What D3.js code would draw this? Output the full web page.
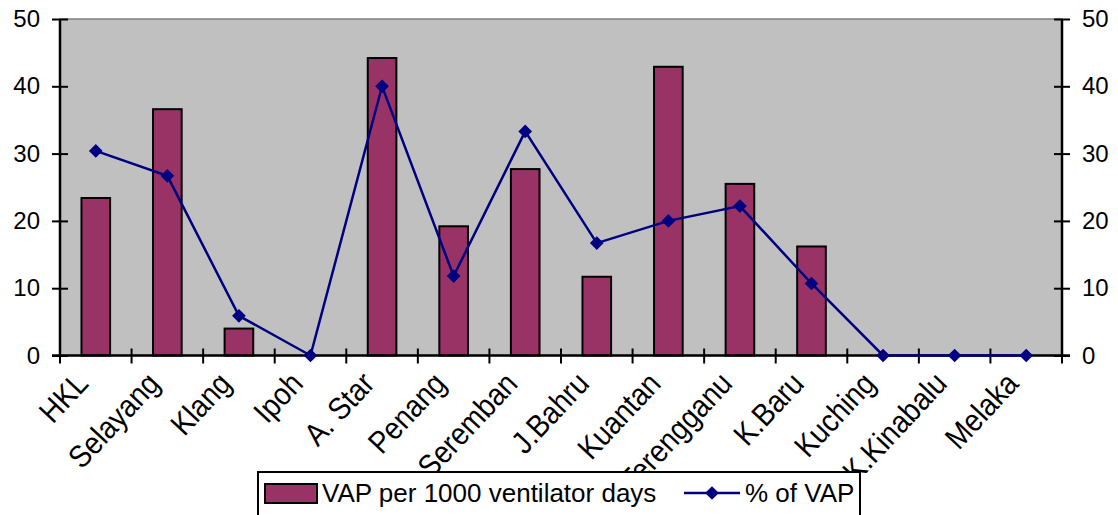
<!DOCTYPE html>
<html>
<head>
<meta charset="utf-8">
<script src="https://cdn.jsdelivr.net/npm/d3@7"></script>
<style>
  body { margin: 0; background: #fff; }
  text { font-family: "Liberation Sans", Arial, sans-serif; fill: #000; }
</style>
</head>
<body>
<div id="chart"></div>
<script>
  // Data
  const hospitals = ['HKL', 'Selayang', 'Klang', 'Ipoh', 'A. Star', 'Penang', 'Seremban',
    'J.Bahru', 'Kuantan', 'Terengganu', 'K.Baru', 'Kuching', 'K.Kinabalu', 'Melaka'];
  const vapRate = [23.4, 36.6, 4.0, 0, 44.2, 19.2, 27.7, 11.7, 42.9, 25.5, 16.2, 0, 0, 0];
  const vapPercent = [30.4, 26.7, 5.9, 0, 40.0, 11.8, 33.3, 16.7, 20.0, 22.2, 10.7, 0, 0, 0];
  const yTicks = [0, 10, 20, 30, 40, 50];

  // Dimensions
  const width = 1118;
  const height = 515;
  const plot = { left: 60, right: 1062, top: 19, bottom: 355.5 };

  const svg = d3.select('#chart')
    .append('svg')
    .attr('width', width)
    .attr('height', height);

  // Scales
  const x = d3.scaleBand()
    .domain(hospitals)
    .range([plot.left, plot.right])
    .paddingInner(0.6)
    .paddingOuter(0.3);

  const xCenter = d => x(d) + x.bandwidth() / 2;

  const yLeft = d3.scaleLinear().domain([0, 50]).range([plot.bottom, plot.top]);
  const yRight = d3.scaleLinear().domain([0, 50]).range([plot.bottom, plot.top]);

  // Plot background
  svg.append('rect')
    .attr('x', plot.left)
    .attr('y', plot.top)
    .attr('width', plot.right - plot.left)
    .attr('height', plot.bottom - plot.top)
    .attr('fill', '#c0c0c0')
    .attr('stroke', '#808080')
    .attr('stroke-width', 1.5);

  // Bars
  svg.append('g')
    .selectAll('rect')
    .data(hospitals)
    .join('rect')
    .attr('x', d => x(d))
    .attr('width', x.bandwidth())
    .attr('y', (d, i) => yLeft(vapRate[i]))
    .attr('height', (d, i) => plot.bottom - yLeft(vapRate[i]))
    .attr('fill', '#993366')
    .attr('stroke', '#000')
    .attr('stroke-width', 2)
    .filter((d, i) => vapRate[i] === 0).remove();

  // Axes
  const axisLeft = d3.axisLeft(yLeft).tickValues(yTicks).tickSize(8).tickPadding(12);
  const axisRight = d3.axisRight(yRight).tickValues(yTicks).tickSize(8).tickPadding(12);

  const gl = svg.append('g')
    .attr('transform', `translate(${plot.left},0)`)
    .call(axisLeft);
  const gr = svg.append('g')
    .attr('transform', `translate(${plot.right},0)`)
    .call(axisRight);

  [gl, gr].forEach(g => {
    g.select('.domain').remove();
    g.selectAll('.tick line').attr('stroke', '#000').attr('stroke-width', 2)
      .attr('x1', -8).attr('x2', 8);
    g.selectAll('.tick text').attr('font-size', 24).attr('font-family', '"Liberation Sans", Arial, sans-serif');
    g.append('line')
      .attr('y1', plot.top).attr('y2', plot.bottom)
      .attr('stroke', '#000').attr('stroke-width', 2.5);
  });

  // X axis line with ticks between categories
  const gx = svg.append('g');
  gx.append('line')
    .attr('x1', plot.left - 8).attr('x2', plot.right + 8)
    .attr('y1', plot.bottom).attr('y2', plot.bottom)
    .attr('stroke', '#000').attr('stroke-width', 2.5);

  const step = x.step();
  const boundaries = d3.range(hospitals.length + 1).map(i => plot.left + i * step);
  gx.selectAll('line.tk')
    .data(boundaries)
    .join('line')
    .attr('class', 'tk')
    .attr('x1', d => d).attr('x2', d => d)
    .attr('y1', plot.bottom - 7).attr('y2', plot.bottom + 8)
    .attr('stroke', '#000').attr('stroke-width', 2);

  // Category labels (slightly tall glyphs, as in the original)
  gx.selectAll('text')
    .data(hospitals)
    .join('text')
    .attr('transform', d => `translate(${xCenter(d) - 14},${plot.bottom + 22}) rotate(-47) scale(1,1.12)`)
    .attr('text-anchor', 'end')
    .attr('dy', '0.35em')
    .attr('font-size', 28)
    .text(d => d);

  // Line series
  const line = d3.line()
    .x(d => xCenter(d))
    .y((d, i) => yRight(vapPercent[i]));

  svg.append('path')
    .datum(hospitals)
    .attr('d', line)
    .attr('fill', 'none')
    .attr('stroke', '#000080')
    .attr('stroke-width', 2.5);

  const diamond = d3.symbol().type(d3.symbolDiamond2).size(120);

  svg.append('g')
    .selectAll('path')
    .data(hospitals)
    .join('path')
    .attr('d', diamond)
    .attr('transform', (d, i) => `translate(${xCenter(d)},${yRight(vapPercent[i])})`)
    .attr('fill', '#000080');

  // Legend
  const legend = svg.append('g');
  legend.append('rect')
    .attr('x', 258).attr('y', 472)
    .attr('width', 602).attr('height', 60)
    .attr('fill', '#fff')
    .attr('stroke', '#000').attr('stroke-width', 2);

  legend.append('rect')
    .attr('x', 265).attr('y', 484)
    .attr('width', 52).attr('height', 19)
    .attr('fill', '#993366')
    .attr('stroke', '#000').attr('stroke-width', 2);
  legend.append('text')
    .attr('x', 322).attr('y', 502)
    .attr('font-size', 26)
    .text('VAP per 1000 ventilator days');

  legend.append('line')
    .attr('x1', 684).attr('x2', 740)
    .attr('y1', 493).attr('y2', 493)
    .attr('stroke', '#000080').attr('stroke-width', 2.5);
  legend.append('path')
    .attr('d', diamond)
    .attr('transform', 'translate(712,493)')
    .attr('fill', '#000080');
  legend.append('text')
    .attr('x', 745).attr('y', 502)
    .attr('font-size', 26)
    .text('% of VAP');
</script>
</body>
</html>
